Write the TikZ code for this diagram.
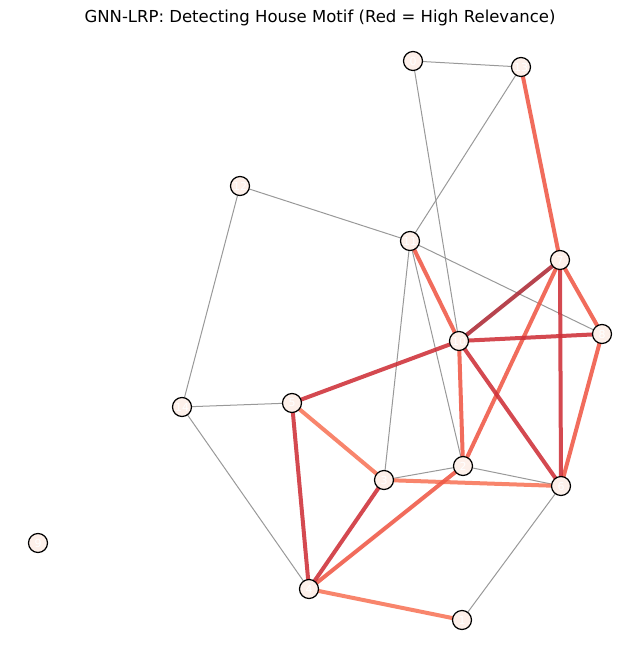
\documentclass[tikz,border=0pt]{standalone}
\usepackage{fontspec}
\setmainfont{DejaVu Sans}
\usetikzlibrary{positioning,backgrounds}
\definecolor{edgegray}{HTML}{999999}
\definecolor{nodefill}{HTML}{FDF0EA}
\definecolor{reldark}{HTML}{AD2A35}
\definecolor{relhigh}{HTML}{CE3038}
\definecolor{relmid}{HTML}{EF5846}
\definecolor{rellow}{HTML}{F77458}
\tikzset{
  graphnode/.style={
    circle,
    draw=black,
    fill=nodefill,
    line width=1.2pt,
    minimum size=19pt,
    inner sep=0pt,
    text=white,
    font=\fontsize{11}{12}\selectfont
  },
  plain/.style={
    draw=edgegray,
    line width=1pt
  },
  relevant/.style={
    line width=4pt,
    draw opacity=0.88
  },
  caption/.style={
    font=\fontsize{16.5}{20}\selectfont
  }
}

\begin{document}
\begin{tikzpicture}[x=1pt, y=-1pt]
\useasboundingbox (0,0) rectangle (640,658);

\node[caption] (title) at (320,18) {GNN-LRP: Detecting House Motif (Red = High Relevance)};

% graph nodes, placed at the layout positions
\node[graphnode] (n0) at (413,61) {0};
\node[graphnode] (n13) at (521,67) {13};
\node[graphnode] (n12) at (240,186) {12};
\node[graphnode] (n11) at (410,241) {11};
\node[graphnode] (n7) at (560,260) {7};
\node[graphnode] (n8) at (602,334) {8};
\node[graphnode] (n10) at (459,341) {10};
\node[graphnode] (n14) at (182,407) {14};
\node[graphnode] (n5) at (292,403) {5};
\node[graphnode] (n2) at (463,466) {2};
\node[graphnode] (n3) at (384,480) {3};
\node[graphnode] (n6) at (561,486) {6};
\node[graphnode] (n9) at (38,543) {9};
\node[graphnode] (n4) at (309,589) {4};
\node[graphnode] (n1) at (462,620) {1};

\begin{scope}[on background layer]
% low relevance edges
\draw[plain] (n0.center) -- (n13.center);
\draw[plain] (n0.center) -- (n10.center);
\draw[plain] (n13.center) -- (n11.center);
\draw[plain] (n12.center) -- (n11.center);
\draw[plain] (n12.center) -- (n14.center);
\draw[plain] (n11.center) -- (n8.center);
\draw[plain] (n11.center) -- (n3.center);
\draw[plain] (n11.center) -- (n2.center);
\draw[plain] (n14.center) -- (n5.center);
\draw[plain] (n14.center) -- (n4.center);
\draw[plain] (n3.center) -- (n2.center);
\draw[plain] (n2.center) -- (n6.center);
\draw[plain] (n6.center) -- (n1.center);

% house motif edges, coloured by relevance
\draw[relevant, draw=rellow] (n3.center) -- (n6.center);
\draw[relevant, draw=rellow] (n4.center) -- (n1.center);
\draw[relevant, draw=rellow] (n5.center) -- (n3.center);
\draw[relevant, draw=relmid] (n13.center) -- (n7.center);
\draw[relevant, draw=relmid] (n11.center) -- (n10.center);
\draw[relevant, draw=relmid] (n7.center) -- (n2.center);
\draw[relevant, draw=relmid] (n10.center) -- (n2.center);
\draw[relevant, draw=relmid] (n4.center) -- (n2.center);
\draw[relevant, draw=relmid] (n8.center) -- (n6.center);
\draw[relevant, draw=relmid] (n7.center) -- (n8.center);
\draw[relevant, draw=relhigh] (n7.center) -- (n6.center);
\draw[relevant, draw=relhigh] (n10.center) -- (n8.center);
\draw[relevant, draw=relhigh] (n10.center) -- (n5.center);
\draw[relevant, draw=relhigh] (n10.center) -- (n6.center);
\draw[relevant, draw=relhigh] (n5.center) -- (n4.center);
\draw[relevant, draw=relhigh] (n3.center) -- (n4.center);
\draw[relevant, draw=reldark] (n7.center) -- (n10.center);
\end{scope}

\end{tikzpicture}
\end{document}
